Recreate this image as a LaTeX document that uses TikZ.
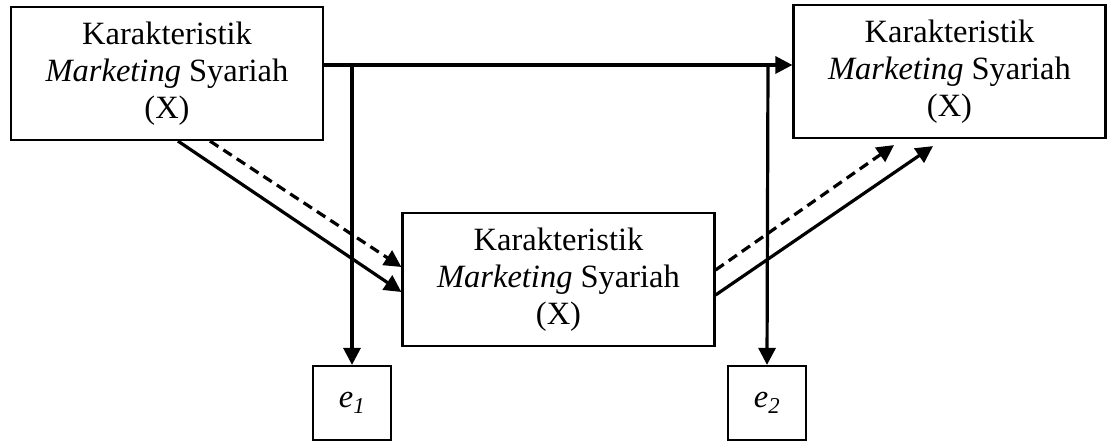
\documentclass[tikz,border=0pt]{standalone}
\usepackage{fontspec}
\setmainfont{Liberation Serif}
\usetikzlibrary{arrows.meta}
\begin{document}
\begin{tikzpicture}[x=1pt,y=1pt,
  varbox/.style={draw,line width=2.2pt,minimum width=312pt,minimum height=133pt,
    inner sep=0pt,align=center,font=\fontsize{32.5}{37}\selectfont},
  errbox/.style={draw,line width=2.2pt,minimum width=78pt,minimum height=74pt,
    inner sep=0pt,font=\fontsize{32.5}{37}\selectfont},
  arr/.style={line width=3.2pt,-{Triangle[length=17pt,width=17pt]}},
  dasharr/.style={arr,dash pattern=on 10pt off 6pt}]
\useasboundingbox (0,0) rectangle (1114,441);
% variable boxes
\node[varbox] (L) at (167,367.5) {Karakteristik\\\textit{Marketing} Syariah\\(X)};
\node[varbox] (R) at (949.5,369.5) {Karakteristik\\\textit{Marketing} Syariah\\(X)};
\node[varbox] (M) at (558.5,161.5) {Karakteristik\\\textit{Marketing} Syariah\\(X)};
% error terms
\node[errbox] (e1) at (352,38) {\textit{e\textsubscript{1}}};
\node[errbox] (e2) at (767,38) {\textit{e\textsubscript{2}}};
% junctions on the top line
\coordinate (t1) at (352,376);
\coordinate (t2) at (768,376);
% direct path
\draw[arr] (L.east |- t1) -- (R.west |- t1);
\draw[arr] (t1) -- (e1.north);
\draw[arr] (t2) -- (e2.north);
% mediated paths
\draw[arr] ([xshift=11pt]L.south) -- ([yshift=-12.5pt]M.west);
\draw[dasharr] ([xshift=43pt]L.south) -- ([yshift=12.5pt]M.west);
\draw[dasharr] ([yshift=9.5pt]M.east) -- ([xshift=-55.5pt,yshift=-6pt]R.south);
\draw[arr] ([yshift=-15.5pt]M.east) -- ([xshift=-16.5pt,yshift=-7pt]R.south);
\end{tikzpicture}
\end{document}
